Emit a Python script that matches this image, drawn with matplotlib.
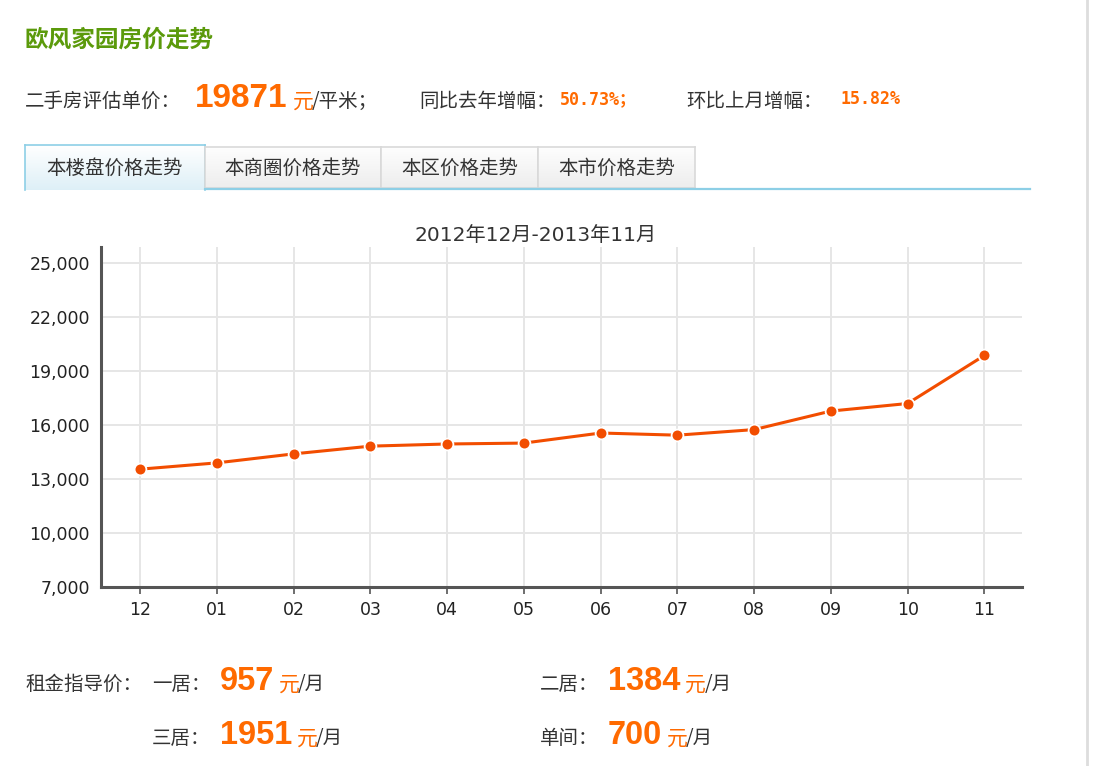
""" 欧风家园房价走势 - price trend chart """

import numpy as np
import matplotlib
matplotlib.use('Agg')
import matplotlib.pyplot as plt
from matplotlib.ticker import FuncFormatter

plt.rcParams['font.family'] = ['Noto Sans CJK SC', 'DejaVu Sans']

#%% data
months = ['12', '01', '02', '03', '04', '05', '06', '07', '08', '09', '10', '11']
prices = [13550, 13900, 14400, 14830, 14950, 15000, 15560, 15440, 15750, 16780, 17200, 19871]
y_ticks = [7000, 10000, 13000, 16000, 19000, 22000, 25000]
chart_title = '2012年12月-2013年11月'
tab_names = ['本楼盘价格走势', '本商圈价格走势', '本区价格走势', '本市价格走势']

unit_price = '19871'
yoy = '50.73%'
mom = '15.82%'
rent_labels = ['一居：', '二居：', '三居：', '单间：']
rent_values = ['957', '1384', '1951', '700']

#%% figure
W, H = 1095, 766
fig = plt.figure(figsize=(W / 100, H / 100), dpi=100)
fig.patch.set_facecolor('white')

ORANGE = '#ff6a00'
TXT = '#333333'
BIGNUM = ['Liberation Sans']


def fx(x):
    return x / W


def fy(y):
    return 1 - y / H


def txt(x, y, s, **kw):
    kw.setdefault('color', TXT)
    kw.setdefault('fontsize', 14)
    kw.setdefault('va', 'baseline')
    return fig.text(fx(x), fy(y), s, **kw)


# header
txt(25, 47, '欧风家园房价走势', color='#5b9a0b', fontsize=17, fontweight='bold')
txt(25, 107, '二手房评估单价：')
t = txt(195, 107, unit_price, color=ORANGE, fontsize=24, fontweight='bold', family=BIGNUM)
fig.canvas.draw()
bb = t.get_window_extent()
txt(bb.x1 + 5, 108, '元', color=ORANGE, fontsize=15)
txt(bb.x1 + 24, 107, '/平米；')
txt(419, 107, '同比去年增幅：')
txt(560, 104, yoy + '；', color=ORANGE, fontsize=12, fontweight='bold',
    family=['DejaVu Sans Mono', 'Noto Sans CJK SC'])
txt(686, 107, '环比上月增幅：')
txt(840, 104, mom, color=ORANGE, fontsize=12, fontweight='bold',
    family=['DejaVu Sans Mono'])

# right border line of the page
fig.add_artist(plt.Line2D([fx(1087), fx(1087)], [0, 1], color='#dddddd', lw=2))

#%% tabs
tab_x = [25, 205, 381, 538, 695]
for i, name in enumerate(tab_names):
    x0, x1 = tab_x[i], tab_x[i + 1]
    top = 145 if i == 0 else 147
    bot = 190 if i == 0 else 188
    tax = fig.add_axes([fx(x0), fy(bot), fx(x1 - x0), (bot - top) / H])
    grad = np.linspace(0, 1, 50)[:, None]
    if i == 0:
        c0, c1 = np.array([1.0, 1.0, 1.0]), np.array([0.87, 0.94, 0.97])
        edge = '#8dcfe6'
    else:
        c0, c1 = np.array([0.995, 0.995, 0.995]), np.array([0.93, 0.93, 0.93])
        edge = '#d9d9d9'
    img = c0[None, None, :] + grad[:, :, None] * (c1 - c0)[None, None, :]
    tax.imshow(img, aspect='auto', extent=[0, 1, 0, 1])
    tax.set_xticks([])
    tax.set_yticks([])
    for s in tax.spines.values():
        s.set_color(edge)
        s.set_linewidth(1.2)
    if i == 0:
        tax.spines['bottom'].set_visible(False)
    txt((x0 + x1) / 2, 174, name, ha='center')

fig.add_artist(plt.Line2D([fx(205), fx(1030)], [fy(189), fy(189)],
                          color='#8dcfe6', lw=1.6))

#%% chart
ax = fig.add_axes([fx(101), fy(587), fx(1022 - 101), (587 - 247) / H])
x = np.arange(len(months))
ax.plot(x, prices, color='#f24d00', lw=2.2, marker='o', markersize=8.5,
        markeredgecolor='white', markeredgewidth=1.3, zorder=3)
ax.set_xlim(-0.51, len(months) - 1 + 0.49)
ax.set_ylim(7000, 25900)
ax.set_yticks(y_ticks)
ax.yaxis.set_major_formatter(FuncFormatter(lambda v, p: '{:,.0f}'.format(v)))
ax.set_xticks(x)
ax.set_xticklabels(months)
ax.grid(True, color='#e6e6e6', lw=1.4)
ax.set_axisbelow(True)
for s in ['top', 'right']:
    ax.spines[s].set_visible(False)
for s in ['left', 'bottom']:
    ax.spines[s].set_color('#555555')
    ax.spines[s].set_linewidth(2.2)
ax.tick_params(axis='y', length=0, pad=8, labelsize=12.5, labelcolor='#222222')
ax.tick_params(axis='x', length=5, width=1.2, color='#555555', pad=5,
               labelsize=12.5, labelcolor='#222222')
for lab in ax.get_xticklabels() + ax.get_yticklabels():
    lab.set_family(['DejaVu Sans'])

txt(536, 241, chart_title, ha='center', fontsize=14.5,
    family=['DejaVu Sans', 'Noto Sans CJK SC'])

#%% rent
txt(25, 690, '租金指导价：')
rent_pos = [(152, 220, 690), (540, 608, 690), (152, 220, 744), (540, 608, 744)]
for lab, val, (xl, xv, yb) in zip(rent_labels, rent_values, rent_pos):
    txt(xl, yb, lab)
    t = txt(xv, yb, val, color=ORANGE, fontsize=23.5, fontweight='bold', family=BIGNUM)
    fig.canvas.draw()
    bb = t.get_window_extent()
    txt(bb.x1 + 5, yb + 1, '元', color=ORANGE, fontsize=15)
    txt(bb.x1 + 24, yb, '/月')

plt.savefig('out.png', dpi=100)
